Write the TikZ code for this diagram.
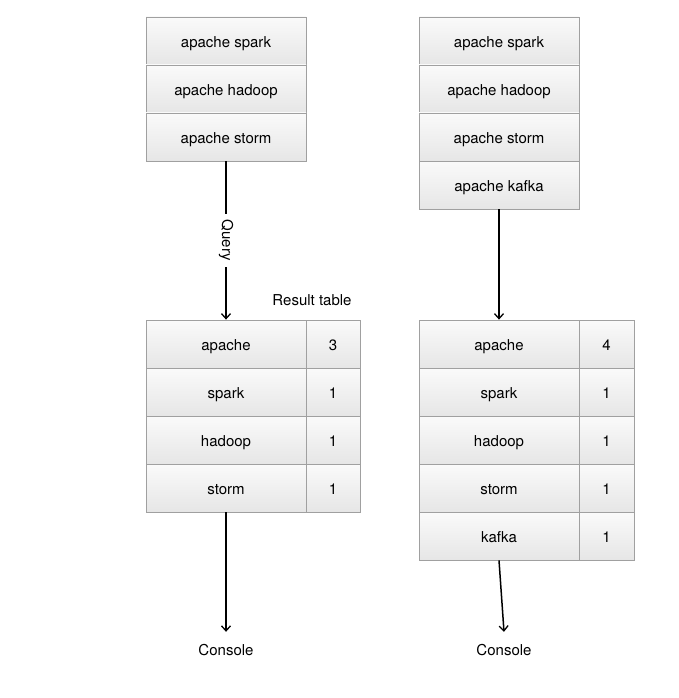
\documentclass[tikz,border=0pt]{standalone}
\usepackage{fontspec}
\setmainfont{TeX Gyre Heros}
\usetikzlibrary{arrows.meta}
\definecolor{cellline}{HTML}{A0A0A0}
\definecolor{celltop}{HTML}{FAFAFA}
\definecolor{cellbot}{HTML}{E6E6E6}
\tikzset{
  cell/.style={draw=cellline, line width=0.8pt, top color=celltop, bottom color=cellbot,
    minimum width=160pt, minimum height=48pt, inner sep=0pt, text height=12.5pt, text depth=0pt,
    font=\fontsize{15}{17}\selectfont},
  numcell/.style={cell, minimum width=54pt},
  lbl/.style={font=\fontsize{15}{17}\selectfont, inner sep=0pt},
  flow/.style={line width=1.5pt, black, -{Straight Barb[length=5pt,width=9pt,line width=1.3pt]}}
}
\begin{document}
\begin{tikzpicture}[x=1pt,y=-1pt]
\useasboundingbox (0,0) rectangle (678,698);
% left source
\node[cell] (ls1) at (226,41) {apache spark};
\node[cell] (ls2) at (226,89) {apache hadoop};
\node[cell] (ls3) at (226,137) {apache storm};
% right source
\node[cell] (rs1) at (499,41) {apache spark};
\node[cell] (rs2) at (499,89) {apache hadoop};
\node[cell] (rs3) at (499,137) {apache storm};
\node[cell] (rs4) at (499,185) {apache kafka};
% left result
\node[cell] (lr1) at (226,344) {apache};
\node[cell] (lr2) at (226,392) {spark};
\node[cell] (lr3) at (226,440) {hadoop};
\node[cell] (lr4) at (226,488) {storm};
\node[numcell] (ln1) at (333,344) {3};
\node[numcell] (ln2) at (333,392) {1};
\node[numcell] (ln3) at (333,440) {1};
\node[numcell] (ln4) at (333,488) {1};
% right result
\node[cell] (rr1) at (499,344) {apache};
\node[cell] (rr2) at (499,392) {spark};
\node[cell] (rr3) at (499,440) {hadoop};
\node[cell] (rr4) at (499,488) {storm};
\node[cell] (rr5) at (499,536) {kafka};
\node[numcell, minimum width=55pt] (rn1) at (606.5,344) {4};
\node[numcell, minimum width=55pt] (rn2) at (606.5,392) {1};
\node[numcell, minimum width=55pt] (rn3) at (606.5,440) {1};
\node[numcell, minimum width=55pt] (rn4) at (606.5,488) {1};
\node[numcell, minimum width=55pt] (rn5) at (606.5,536) {1};
% labels
\node[lbl] (rt) at (312,300) {Result table};
\node[lbl, minimum height=36pt] (lc) at (226,650) {Console};
\node[lbl, minimum height=36pt] (rc) at (504,650) {Console};
% connectors
\draw[flow] (ls3.south) -- (lr1.north)
  node[midway, fill=white, rotate=-90, lbl, inner xsep=6pt, inner ysep=2pt] {Query};
\draw[flow] (rs4.south) -- (rr1.north);
\draw[flow] (lr4.south) -- (lc.north);
\draw[flow] (rr5.south) -- (rc.north);
\end{tikzpicture}
\end{document}
